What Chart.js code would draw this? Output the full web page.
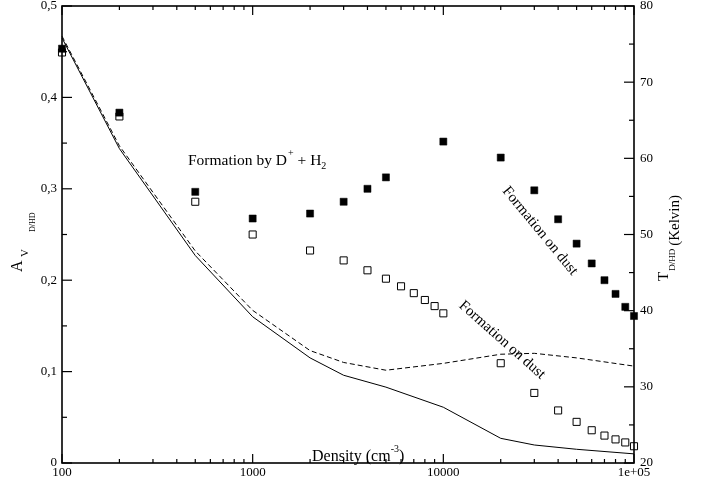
<!DOCTYPE html>
<html><head><meta charset="utf-8">
<script src="https://cdn.jsdelivr.net/npm/chart.js@4"></script>
<style>html,body{margin:0;padding:0;background:#fff}#wrap{width:707px;height:486px}</style>
</head><body><div id="wrap"><canvas id="c" width="707" height="486"></canvas></div>
<script>
// Data
const densLine = [100, 200, 500, 1000, 2000, 3000, 5000, 10000, 20000, 30000, 50000, 100000];
const avSolid  = [0.465, 0.344, 0.227, 0.160, 0.115, 0.096, 0.083, 0.061, 0.027, 0.0197, 0.015, 0.010];
const avDashed = [0.467, 0.347, 0.232, 0.167, 0.123, 0.110, 0.1015, 0.109, 0.119, 0.120, 0.115, 0.106];
const densFilled = [100, 200, 500, 1000, 2000, 3000, 4000, 5000, 10000, 20000, 30000, 40000, 50000, 60000, 70000, 80000, 90000, 100000];
const tFilled    = [74.4, 66.0, 55.6, 52.1, 52.75, 54.3, 56.0, 57.5, 62.2, 60.1, 55.8, 52.0, 48.8, 46.2, 44.0, 42.2, 40.5, 39.3];
const densOpen = [100, 200, 500, 1000, 2000, 3000, 4000, 5000, 6000, 7000, 8000, 9000, 10000, 20000, 30000, 40000, 50000, 60000, 70000, 80000, 90000, 100000];
const tOpen    = [73.9, 65.5, 54.3, 50.0, 47.9, 46.6, 45.3, 44.2, 43.2, 42.3, 41.4, 40.6, 39.65, 33.1, 29.2, 26.9, 25.4, 24.3, 23.6, 23.1, 22.7, 22.2];
const xTickLabels = {100: '100', 1000: '1000', 10000: '10000', 100000: '1e+05'};
const leftTicks = [0, 0.1, 0.2, 0.3, 0.4, 0.5];
const leftTickLabels = ['0', '0,1', '0,2', '0,3', '0,4', '0,5'];
const rightTicks = [20, 30, 40, 50, 60, 70, 80];

const pts = (xs, ys) => xs.map((x, i) => ({x: x, y: ys[i]}));
const SERIF = '"Liberation Serif", "DejaVu Serif", serif';

const deco = {
  id: 'deco',
  afterDraw(chart) {
    const ctx = chart.ctx, a = chart.chartArea;
    const xs = chart.scales.x, yl = chart.scales.yl, yr = chart.scales.yr;
    ctx.save();
    ctx.strokeStyle = '#000'; ctx.fillStyle = '#000';
    ctx.lineWidth = 1.6;
    ctx.strokeRect(a.left, a.top, a.right - a.left, a.bottom - a.top);
    ctx.lineWidth = 1.2;
    // x ticks
    for (let d = 100; d <= 100000; d *= 10) {
      for (let m = 1; m < 10; m++) {
        const v = d * m; if (v > 100000) break;
        const px = xs.getPixelForValue(v);
        const len = (m === 1) ? 9 : 4;
        ctx.beginPath();
        ctx.moveTo(px, a.bottom); ctx.lineTo(px, a.bottom - len);
        ctx.moveTo(px, a.top); ctx.lineTo(px, a.top + len);
        ctx.stroke();
      }
    }
    // left ticks
    for (let i = 0; i <= 10; i++) {
      const v = i * 0.05, py = yl.getPixelForValue(v);
      const len = (i % 2 === 0) ? 10 : 5;
      ctx.beginPath(); ctx.moveTo(a.left, py); ctx.lineTo(a.left + len, py); ctx.stroke();
    }
    // right ticks
    for (let v = 20; v <= 80; v += 5) {
      const py = yr.getPixelForValue(v);
      const len = (v % 10 === 0) ? 10 : 5;
      ctx.beginPath(); ctx.moveTo(a.right, py); ctx.lineTo(a.right - len, py); ctx.stroke();
    }
    // tick labels
    ctx.font = '13px ' + SERIF;
    ctx.textBaseline = 'middle';
    ctx.textAlign = 'right';
    leftTicks.forEach((v, i) => ctx.fillText(leftTickLabels[i], a.left - 5, yl.getPixelForValue(v)));
    ctx.textAlign = 'left';
    rightTicks.forEach(v => ctx.fillText(String(v), a.right + 6, yr.getPixelForValue(v)));
    ctx.textAlign = 'center';
    Object.keys(xTickLabels).forEach(k => ctx.fillText(xTickLabels[k], xs.getPixelForValue(+k), a.bottom + 10));

    // annotations
    ctx.textBaseline = 'alphabetic';
    ctx.textAlign = 'left';
    // Formation by D+ + H2
    let x0 = 188, y0 = 165;
    ctx.font = '15.5px ' + SERIF;
    ctx.fillText('Formation by D', x0, y0);
    x0 += ctx.measureText('Formation by D').width;
    ctx.font = '10px ' + SERIF;
    ctx.fillText('+', x0 + 1, y0 - 9);
    x0 += ctx.measureText('+').width + 1;
    ctx.font = '15.5px ' + SERIF;
    ctx.fillText(' + H', x0, y0);
    x0 += ctx.measureText(' + H').width;
    ctx.font = '10px ' + SERIF;
    ctx.fillText('2', x0, y0 + 4);

    // Density label
    let dx = 312, dy = 461;
    ctx.font = '16px ' + SERIF;
    ctx.fillText('Density (cm', dx, dy);
    dx += ctx.measureText('Density (cm').width;
    ctx.font = '10px ' + SERIF;
    ctx.fillText('-3', dx, dy - 9);
    dx += ctx.measureText('-3').width;
    ctx.font = '16px ' + SERIF;
    ctx.fillText(')', dx, dy);

    // rotated labels
    ctx.font = '15px ' + SERIF;
    ctx.textAlign = 'center'; ctx.textBaseline = 'middle';
    ctx.save(); ctx.translate(540, 231); ctx.rotate(50.5 * Math.PI / 180);
    ctx.fillText('Formation on dust', 0, 0); ctx.restore();
    ctx.save(); ctx.translate(502, 340); ctx.rotate(41.5 * Math.PI / 180);
    ctx.fillText('Formation on dust', 0, 0); ctx.restore();

    // left axis title
    ctx.save(); ctx.translate(22, 272); ctx.rotate(-Math.PI / 2);
    ctx.textAlign = 'left'; ctx.textBaseline = 'alphabetic';
    ctx.font = '16px ' + SERIF; ctx.fillText('A', 0, 0);
    ctx.font = '11px ' + SERIF; ctx.fillText('V', 15, 6);
    ctx.font = '8px ' + SERIF; ctx.fillText('D/HD', 40, 13);
    ctx.restore();

    // right axis title
    ctx.save(); ctx.translate(668, 281); ctx.rotate(-Math.PI / 2);
    ctx.textAlign = 'left'; ctx.textBaseline = 'alphabetic';
    ctx.font = '15px ' + SERIF; ctx.fillText('T', 0, 0);
    let rx = ctx.measureText('T').width + 1;
    ctx.font = '9px ' + SERIF; ctx.fillText('D/HD', rx, 7);
    rx += ctx.measureText('D/HD').width + 3;
    ctx.font = '15px ' + SERIF; ctx.fillText('(Kelvin)', rx, 11);
    ctx.restore();
    ctx.restore();
  }
};

new Chart(document.getElementById('c'), {
  type: 'line',
  data: {
    datasets: [
      {data: pts(densLine, avSolid), yAxisID: 'yl', borderColor: '#000', borderWidth: 1, pointRadius: 0, fill: false, tension: 0},
      {data: pts(densLine, avDashed), yAxisID: 'yl', borderColor: '#000', borderWidth: 1, borderDash: [5, 3], pointRadius: 0, fill: false, tension: 0},
      {data: pts(densFilled, tFilled), yAxisID: 'yr', showLine: false, pointStyle: 'rect', pointRadius: 5, pointBackgroundColor: '#000', pointBorderColor: '#000', pointBorderWidth: 0.5},
      {data: pts(densOpen, tOpen), yAxisID: 'yr', showLine: false, pointStyle: 'rect', pointRadius: 5, pointBackgroundColor: '#fff', pointBorderColor: '#000', pointBorderWidth: 1}
    ]
  },
  options: {
    responsive: false, animation: false, clip: false,
    layout: {padding: {left: 62, right: 73, top: 5, bottom: 23}},
    plugins: {legend: {display: false}, tooltip: {enabled: false}},
    scales: {
      x: {type: 'logarithmic', min: 100, max: 100000, display: false},
      yl: {type: 'linear', position: 'left', min: 0, max: 0.5, display: false},
      yr: {type: 'linear', position: 'right', min: 20, max: 80, display: false}
    }
  },
  plugins: [deco]
});
</script></body></html>
